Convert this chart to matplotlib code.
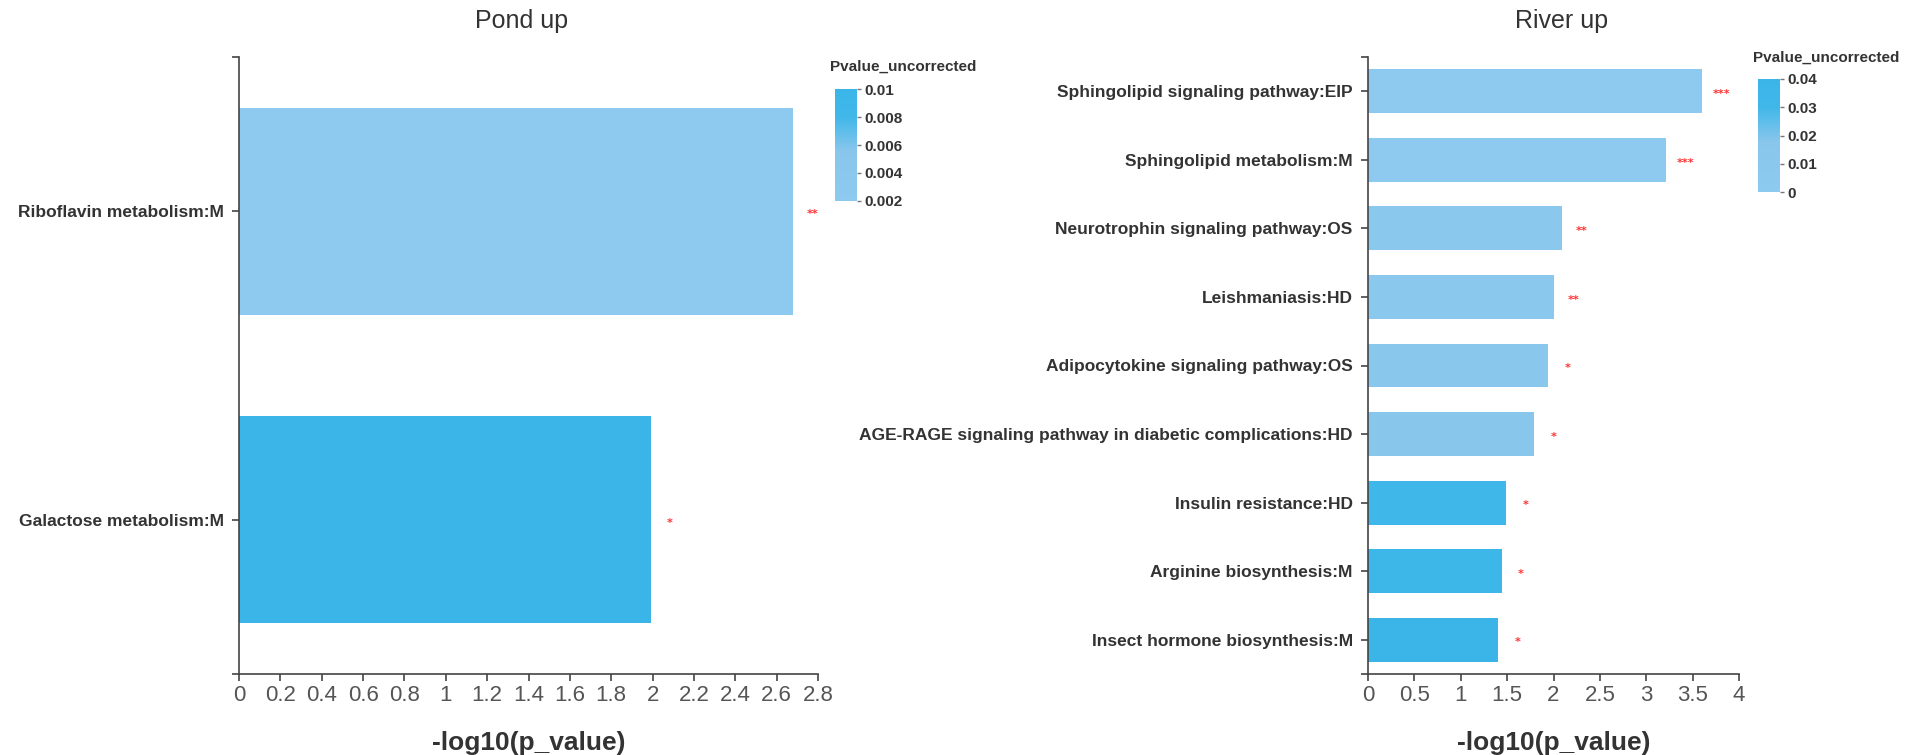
import matplotlib
matplotlib.use('Agg')
import matplotlib.pyplot as plt
from matplotlib.colors import LinearSegmentedColormap, Normalize
from matplotlib.cm import ScalarMappable
import numpy as np

# 上调通路（池塘）
pond_terms = ["Riboflavin metabolism:M", "Galactose metabolism:M"]
pond_logp = [2.68, 1.99]
pond_stars = ["**", "*"]

# 上调通路（河流）
river_terms = ["Sphingolipid signaling pathway:EIP",
               "Sphingolipid metabolism:M",
               "Neurotrophin signaling pathway:OS",
               "Leishmaniasis:HD",
               "Adipocytokine signaling pathway:OS",
               "AGE-RAGE signaling pathway in diabetic complications:HD",
               "Insulin resistance:HD",
               "Arginine biosynthesis:M",
               "Insect hormone biosynthesis:M"]
river_logp = [3.60, 3.21, 2.09, 2.01, 1.94, 1.79, 1.49, 1.44, 1.40]
river_stars = ["***", "***", "**", "**", "*", "*", "*", "*", "*"]

pond_xticks = [0, 0.2, 0.4, 0.6, 0.8, 1, 1.2, 1.4, 1.6, 1.8, 2, 2.2, 2.4, 2.6, 2.8]
river_xticks = [0, 0.5, 1, 1.5, 2, 2.5, 3, 3.5, 4]
pond_cbar_ticks = [0.002, 0.004, 0.006, 0.008, 0.01]
river_cbar_ticks = [0, 0.01, 0.02, 0.03, 0.04]

cmap = LinearSegmentedColormap.from_list(
    "pv", [(0, "#8ecaef"), (0.45, "#88c6ec"), (0.75, "#40b7e9"), (1, "#3bb5e8")])

W, H = 1923, 755
fig = plt.figure(figsize=(W / 100, H / 100), dpi=100)

AX_C = "#444444"
TXT_C = "#333333"


def fmt(v):
    return ("%g" % v)


def draw_panel(rect, terms, logp, stars, xticks, vmin, vmax, bar_h, title, title_x):
    ax = fig.add_axes([rect[0] / W, 1 - rect[3] / H, (rect[2] - rect[0]) / W, (rect[3] - rect[1]) / H])
    n = len(terms)
    y = np.arange(n)
    pv = 10 ** (-np.array(logp))
    norm = Normalize(vmin, vmax)
    ax.barh(y, logp, height=bar_h, color=cmap(norm(pv)))
    for yi, v, s in zip(y, logp, stars):
        ax.annotate(s, (v, yi), xytext=(14, -2), textcoords="offset points",
                    ha="center", va="center", color="#ff3030", fontsize=8,
                    family="DejaVu Sans", fontweight="bold")
    ax.set_ylim(n - 0.5, -0.5)
    ax.set_xlim(xticks[0], xticks[-1])
    ax.set_yticks(y)
    ax.set_yticklabels(terms, fontsize=12.5, fontweight="bold", color=TXT_C,
                       family=["Liberation Sans", "DejaVu Sans"])
    ax.set_yticks([-0.5, n - 0.5], minor=True)
    ax.set_xticks(xticks)
    ax.set_xticklabels([fmt(t) for t in xticks], fontsize=16, color="#555555",
                       family=["Liberation Sans Narrow", "Liberation Sans", "DejaVu Sans"])
    ax.tick_params(axis="both", which="both", length=5, width=1.2, color=AX_C, pad=3)
    ax.tick_params(axis="y", which="major", pad=6)
    for sp in ["top", "right"]:
        ax.spines[sp].set_visible(False)
    for sp in ["left", "bottom"]:
        ax.spines[sp].set_color(AX_C)
        ax.spines[sp].set_linewidth(1.2)
    ax.set_xlabel("-log10(p_value)", fontsize=19, fontweight="bold", color=TXT_C,
                  family=["Liberation Sans", "DejaVu Sans"], labelpad=18)
    fig.text(title_x / W, 1 - 21 / H, title, ha="center", va="center", fontsize=18,
             color=TXT_C, family=["Liberation Sans Narrow", "Liberation Sans", "DejaVu Sans"])
    return ax


def draw_cbar(rect, vmin, vmax, ticks, title_xy):
    cax = fig.add_axes([rect[0] / W, 1 - rect[3] / H, (rect[2] - rect[0]) / W, (rect[3] - rect[1]) / H])
    sm = ScalarMappable(norm=Normalize(vmin, vmax), cmap=cmap)
    cb = fig.colorbar(sm, cax=cax, ticks=ticks)
    cb.outline.set_visible(False)
    cb.ax.set_yticklabels([fmt(t) for t in ticks], fontsize=11, fontweight="bold", color=TXT_C,
                          family=["Liberation Sans", "DejaVu Sans"])
    cb.ax.tick_params(length=3, width=1, color="#777777", pad=2)
    fig.text(title_xy[0] / W, 1 - title_xy[1] / H, "Pvalue_uncorrected", ha="left", va="center",
             fontsize=11, fontweight="bold", color=TXT_C, family=["Liberation Sans", "DejaVu Sans"])


draw_panel((239, 57, 818, 674), pond_terms, pond_logp, pond_stars, pond_xticks,
           0.002, 0.01, 0.67, "Pond up", 522)
draw_panel((1368, 57, 1739, 674), river_terms, river_logp, river_stars, river_xticks,
           0, 0.04, 0.64, "River up", 1562)
draw_cbar((835, 89, 857, 201), 0.002, 0.01, pond_cbar_ticks, (830, 67))
draw_cbar((1758, 79, 1780, 192), 0, 0.04, river_cbar_ticks, (1753, 58))

fig.savefig("out.png", dpi=100, facecolor="white")
